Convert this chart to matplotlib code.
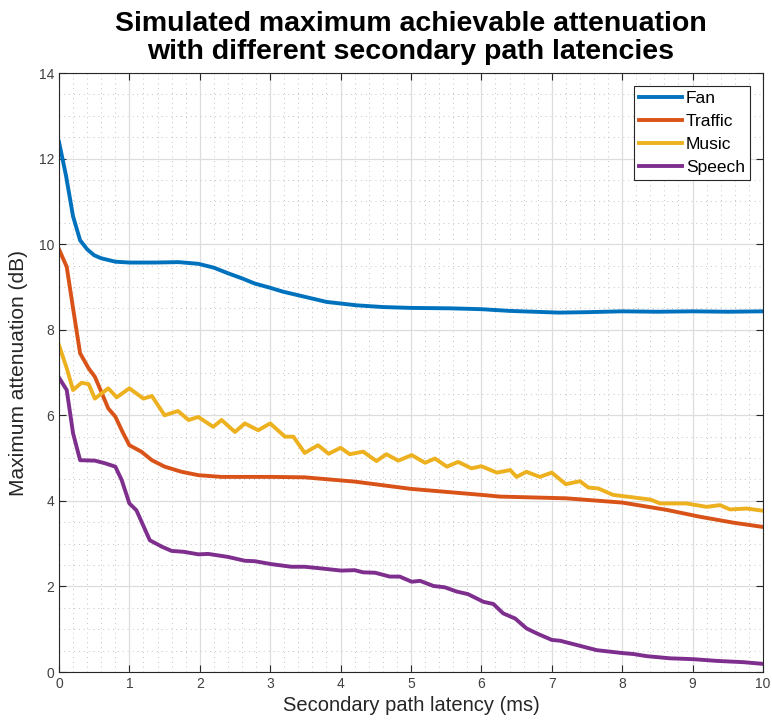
import matplotlib.pyplot as plt
from matplotlib.ticker import MultipleLocator

plt.rcParams['font.family'] = ['Liberation Sans', 'DejaVu Sans']

# values
fan_x = [0, 0.1, 0.2, 0.3, 0.4, 0.5, 0.6, 0.8, 1.0, 1.36, 1.7, 1.98, 2.2, 2.4, 2.6, 2.78,
         3.0, 3.18, 3.49, 3.8, 4.23, 4.6, 4.99, 5.55, 6.0, 6.4, 7.1, 7.5, 8.0, 8.5, 9.0, 9.5, 10]
fan_y = [12.39, 11.6, 10.65, 10.09, 9.88, 9.74, 9.67, 9.59, 9.57, 9.57, 9.58, 9.54, 9.45, 9.32, 9.2, 9.08,
         8.98, 8.89, 8.77, 8.65, 8.57, 8.53, 8.51, 8.5, 8.48, 8.44, 8.40, 8.41, 8.43, 8.42, 8.43, 8.42, 8.43]

traffic_x = [0, 0.11, 0.2, 0.3, 0.42, 0.51, 0.58, 0.7, 0.8, 0.9, 1.0, 1.17, 1.32, 1.5, 1.74, 1.98,
             2.31, 3.02, 3.49, 4.2, 5.0, 6.0, 6.26, 7.2, 8.0, 8.63, 9.1, 9.58, 10]
traffic_y = [9.88, 9.47, 8.5, 7.45, 7.1, 6.9, 6.63, 6.16, 5.97, 5.62, 5.3, 5.15, 4.95, 4.8, 4.68, 4.6,
             4.56, 4.56, 4.55, 4.45, 4.28, 4.14, 4.10, 4.06, 3.96, 3.79, 3.63, 3.49, 3.39]

music_x = [0, 0.11, 0.2, 0.32, 0.42, 0.51, 0.7, 0.82, 1.0, 1.2, 1.32, 1.5, 1.69, 1.84, 1.98,
           2.19, 2.31, 2.5, 2.64, 2.83, 3.0, 3.21, 3.33, 3.49, 3.68, 3.83, 4.0, 4.13, 4.32, 4.51,
           4.65, 4.82, 5.01, 5.2, 5.34, 5.51, 5.67, 5.86, 6.0, 6.22, 6.41, 6.5, 6.64, 6.83, 7.0,
           7.2, 7.4, 7.52, 7.66, 7.87, 8.16, 8.4, 8.54, 8.91, 9.2, 9.39, 9.53, 9.77, 10]
music_y = [7.64, 7.1, 6.59, 6.76, 6.73, 6.39, 6.63, 6.42, 6.63, 6.39, 6.45, 6.0, 6.1, 5.89, 5.96,
           5.73, 5.89, 5.61, 5.81, 5.65, 5.81, 5.5, 5.5, 5.12, 5.3, 5.1, 5.24, 5.09, 5.15, 4.93,
           5.09, 4.94, 5.07, 4.89, 4.99, 4.80, 4.91, 4.76, 4.81, 4.66, 4.72, 4.56, 4.68, 4.56, 4.66,
           4.39, 4.46, 4.31, 4.29, 4.14, 4.08, 4.03, 3.94, 3.94, 3.86, 3.90, 3.80, 3.82, 3.77]

speech_x = [0, 0.11, 0.2, 0.3, 0.51, 0.65, 0.8, 0.89, 1.0, 1.1, 1.29, 1.46, 1.6, 1.77, 1.98,
            2.12, 2.4, 2.64, 2.78, 3.02, 3.3, 3.49, 3.73, 4.01, 4.2, 4.32, 4.49, 4.7, 4.84,
            5.01, 5.13, 5.32, 5.48, 5.65, 5.81, 6.03, 6.17, 6.31, 6.48, 6.64, 6.79, 7.0, 7.12,
            7.31, 7.64, 8.02, 8.16, 8.35, 8.68, 9.01, 9.34, 9.72, 10]
speech_y = [6.88, 6.59, 5.58, 4.95, 4.94, 4.88, 4.8, 4.49, 3.94, 3.78, 3.08, 2.93, 2.83, 2.81, 2.75,
            2.76, 2.69, 2.6, 2.59, 2.52, 2.46, 2.46, 2.42, 2.37, 2.38, 2.33, 2.32, 2.23, 2.23,
            2.11, 2.13, 2.01, 1.98, 1.88, 1.82, 1.64, 1.59, 1.37, 1.25, 1.02, 0.9, 0.75, 0.73,
            0.65, 0.51, 0.44, 0.42, 0.37, 0.32, 0.30, 0.26, 0.23, 0.19]

fig = plt.figure(figsize=(7.72, 7.25), dpi=100)
ax = fig.add_axes([0.0764, 0.0731, 0.9119, 0.8262])

ax.plot(fan_x, fan_y, color='#0072BD', lw=2.8, label='Fan')
ax.plot(traffic_x, traffic_y, color='#D95319', lw=2.8, label='Traffic')
ax.plot(music_x, music_y, color='#EDB120', lw=2.8, label='Music')
ax.plot(speech_x, speech_y, color='#7E2F8E', lw=2.8, label='Speech')

ax.set_xlim(0, 10)
ax.set_ylim(0, 14)
ax.xaxis.set_major_locator(MultipleLocator(1))
ax.xaxis.set_minor_locator(MultipleLocator(0.2))
ax.yaxis.set_major_locator(MultipleLocator(2))
ax.yaxis.set_minor_locator(MultipleLocator(0.5))
ax.grid(True, which='major', color='#dddddd', lw=0.9)
ax.grid(True, which='minor', color='#c4c4c4', lw=0.7, ls=(0, (1, 4)))
ax.set_axisbelow(True)
ax.tick_params(which='both', direction='in', top=True, right=True, colors='#262626',
               labelcolor='#404040', labelsize=10)
ax.tick_params(which='major', length=5)
ax.tick_params(which='minor', length=0)
for s in ax.spines.values():
    s.set_color('#262626')
    s.set_linewidth(0.8)

ax.set_xlabel('Secondary path latency (ms)', fontsize=14.5, color='#262626', labelpad=4)
ax.set_ylabel('Maximum attenuation (dB)', fontsize=15, color='#262626', labelpad=8)
ax.set_title('Simulated maximum achievable attenuation\nwith different secondary path latencies',
             fontsize=20.5, fontweight='bold', color='black', pad=10, linespacing=1.1)

leg = ax.legend(loc='upper right', bbox_to_anchor=(0.982, 0.979), fontsize=12.5,
                fancybox=False, framealpha=1, edgecolor='#262626', borderpad=0.3,
                labelspacing=0.45, handlelength=2.45, handletextpad=0.25, borderaxespad=0)
leg.get_frame().set_linewidth(0.8)

fig.savefig('out.png', dpi=100)
